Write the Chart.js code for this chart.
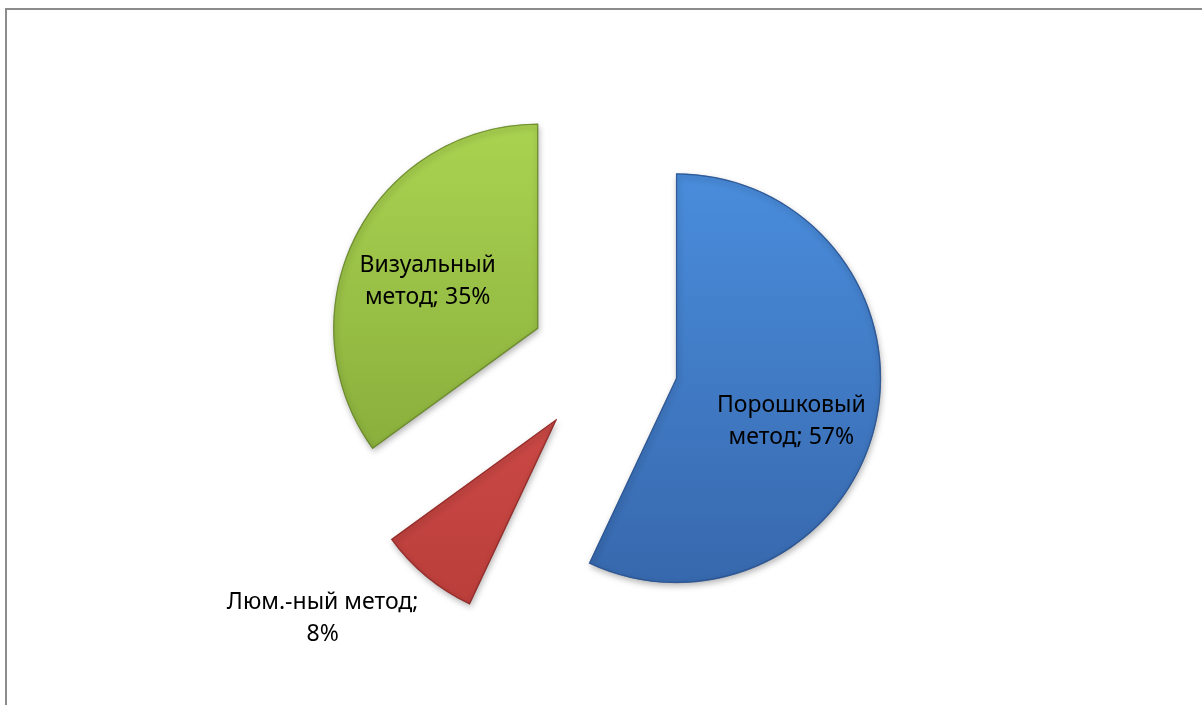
<!DOCTYPE html>
<html lang="ru">
<head>
<meta charset="utf-8">
<title>Методы контроля</title>
<script src="https://cdn.jsdelivr.net/npm/chart.js@4.4.1/dist/chart.umd.min.js"></script>
<style>
  html, body { margin: 0; padding: 0; background: #fff; }
  #wrap { width: 1202px; height: 705px; }
</style>
</head>
<body>
<div id="wrap"><canvas id="methods-chart" width="1202" height="705"></canvas></div>
<script>
// данные
const categories = ['Порошковый метод', 'Люм.-ный метод', 'Визуальный метод'];
const shares = [57, 8, 35];

// оформление
const topColors = ['#4a8ddc', '#dc5551', '#aad351'];
const bottomColors = ['#3768ad', '#b93d3a', '#82a637'];
const edgeColors = ['rgba(40, 80, 140, 0.8)', 'rgba(140, 40, 38, 0.8)', 'rgba(100, 130, 40, 0.8)'];
const explode = 74;
const pieRadius = 205;
// подписи: доля радиуса от вершины, поворот (град.), ширина переноса
const labelPlace = [
    { dist: 0.6, turn: 8, wrap: 160 },
    { dist: 1.5, turn: 10, wrap: 205 },
    { dist: 0.585, turn: -4, wrap: 160 }
];
const labelFont = '23px "Noto Sans"';
const lineHeight = 32;

function sliceGradient(context) {
    const i = context.dataIndex;
    const area = context.chart.chartArea;
    if (!area) return topColors[i];
    const cy = (area.top + area.bottom) / 2;
    const g = context.chart.ctx.createLinearGradient(0, cy - pieRadius, 0, cy + pieRadius);
    g.addColorStop(0, topColors[i]);
    g.addColorStop(1, bottomColors[i]);
    return g;
}

function wrapText(ctx, text, maxWidth) {
    const words = text.split(' ');
    const lines = [];
    let line = '';
    words.forEach(w => {
        const test = line ? line + ' ' + w : w;
        if (line && ctx.measureText(test).width > maxWidth) {
            lines.push(line);
            line = w;
        } else {
            line = test;
        }
    });
    if (line) lines.push(line);
    return lines;
}

// рамка области диаграммы
const chartFrame = {
    id: 'chartFrame',
    beforeDraw(chart) {
        const ctx = chart.ctx;
        ctx.save();
        ctx.strokeStyle = '#8c8c8c';
        ctx.lineWidth = 2;
        ctx.strokeRect(6, 9, 1210, 710);
        ctx.restore();
    }
};

// разнесённые сектора с тенью
const explodedPie = {
    id: 'explodedPie',
    beforeDatasetDraw(chart, args) {
        const ctx = chart.ctx;
        args.meta.data.forEach(arc => {
            const mid = (arc.startAngle + arc.endAngle) / 2;
            ctx.save();
            ctx.translate(Math.cos(mid) * explode, Math.sin(mid) * explode);
            ctx.shadowColor = 'rgba(0, 0, 0, 0.3)';
            ctx.shadowBlur = 6;
            ctx.shadowOffsetX = 1;
            ctx.shadowOffsetY = 3;
            arc.draw(ctx, chart.chartArea);
            ctx.restore();
        });
        return false;
    }
};

const sliceLabels = {
    id: 'sliceLabels',
    afterDatasetsDraw(chart) {
        const ctx = chart.ctx;
        const meta = chart.getDatasetMeta(0);
        ctx.save();
        ctx.font = labelFont;
        ctx.fillStyle = '#000';
        ctx.textAlign = 'center';
        ctx.textBaseline = 'middle';
        meta.data.forEach((arc, i) => {
            const mid = (arc.startAngle + arc.endAngle) / 2;
            const p = labelPlace[i];
            const ax = arc.x + Math.cos(mid) * explode;
            const ay = arc.y + Math.sin(mid) * explode;
            const a = mid + p.turn * Math.PI / 180;
            const d = arc.outerRadius * p.dist;
            const x = ax + Math.cos(a) * d;
            const y = ay + Math.sin(a) * d;
            const lines = wrapText(ctx, categories[i] + '; ' + shares[i] + '%', p.wrap);
            lines.forEach((line, k) => {
                ctx.fillText(line, x, y + (k - (lines.length - 1) / 2) * lineHeight);
            });
        });
        ctx.restore();
    }
};

new Chart(document.getElementById('methods-chart'), {
    type: 'pie',
    data: {
        labels: categories,
        datasets: [{
            data: shares,
            backgroundColor: sliceGradient,
            borderColor: edgeColors,
            borderWidth: 1,
            borderAlign: 'inner'
        }]
    },
    options: {
        responsive: false,
        animation: false,
        radius: pieRadius,
        layout: { padding: { left: 6, top: 19, right: 0, bottom: 0 } },
        plugins: {
            legend: { display: false },
            tooltip: { enabled: false }
        }
    },
    plugins: [chartFrame, explodedPie, sliceLabels]
});
</script>
</body>
</html>
